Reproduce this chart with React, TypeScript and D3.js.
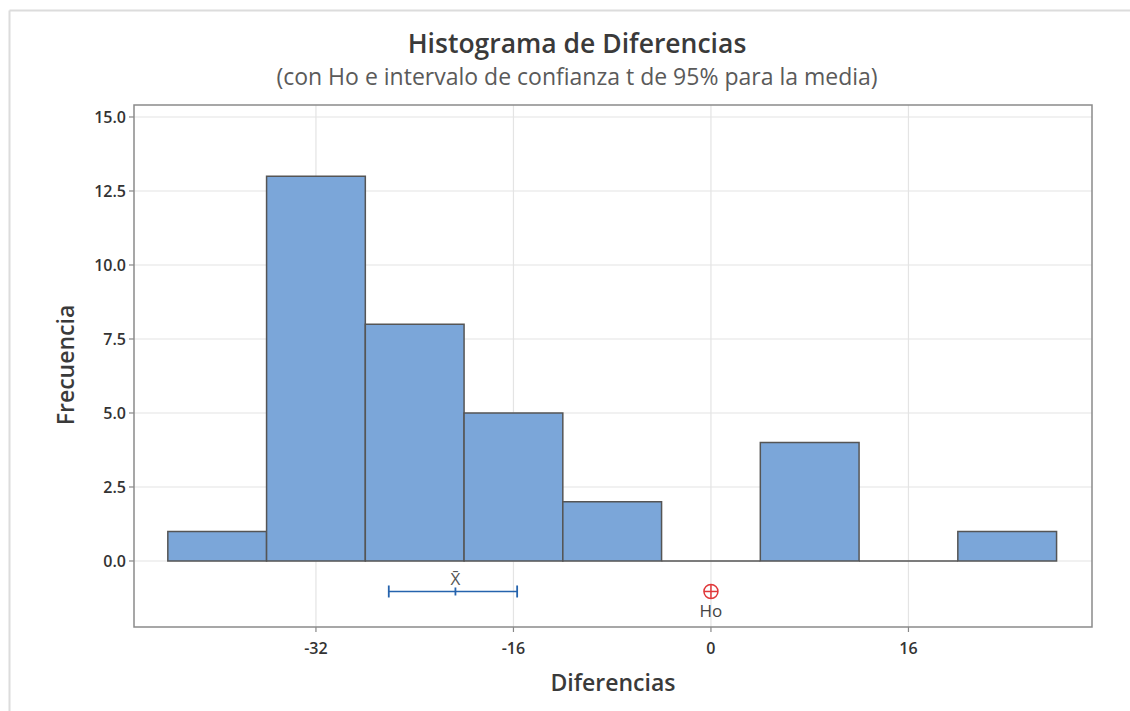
import React from "react";
import * as d3 from "d3";

const binEdges = [-44, -36, -28, -20, -12, -4, 4, 12, 20, 28];
const counts = [1, 13, 8, 5, 2, 0, 4, 0, 1];
const xTicks = [-32, -16, 0, 16];
const yTicks = [0, 2.5, 5, 7.5, 10, 12.5, 15];
const ciLow = -26.1;
const ciHigh = -15.7;
const meanVal = -20.7;
const h0 = 0;
const markerY = -1.03;

const W = 1130;
const H = 711;
const frame = { left: 134, right: 1092, top: 105, bottom: 627 };
const FONT = "'Open Sans', 'Noto Sans', 'DejaVu Sans', sans-serif";

export default function App() {
  const x = d3.scaleLinear().domain([-46.74, 30.87]).range([frame.left, frame.right]);
  const y = d3.scaleLinear().domain([-2.23, 15.405]).range([frame.bottom, frame.top]);
  const bins = counts.map((c, i) => ({ x0: binEdges[i], x1: binEdges[i + 1], c }));
  const my = y(markerY);
  const blue = "#2563ad";
  const red = "#e0383a";
  const barPath = (b: { x0: number; x1: number; c: number }) => {
    const p = d3.path();
    p.moveTo(x(b.x0), y(0));
    p.lineTo(x(b.x0), y(b.c));
    p.lineTo(x(b.x1), y(b.c));
    p.lineTo(x(b.x1), y(0));
    p.closePath();
    return p.toString();
  };
  return (
    <svg width={W} height={H} style={{ position: "absolute", left: 0, top: 0, background: "#fff" }}>
      <line x1={9.5} y1={10.5} x2={W} y2={10.5} stroke="#dcdcdc" strokeWidth={2} />
      <line x1={9.5} y1={10.5} x2={9.5} y2={H} stroke="#dcdcdc" strokeWidth={2} />
      <text x={577} y={53} textAnchor="middle" fontFamily={FONT} fontSize={26.5} fontWeight={600} fill="#3a3a3a">
        Histograma de Diferencias
      </text>
      <text x={577} y={85} textAnchor="middle" fontFamily={FONT} fontSize={23} fill="#5a5a5a">
        (con Ho e intervalo de confianza t de 95% para la media)
      </text>
      {yTicks.map((t) => (
        <g key={"y" + t}>
          <line x1={frame.left} x2={frame.right} y1={y(t)} y2={y(t)} stroke="#e4e4e4" strokeWidth={1.2} />
          <line x1={frame.left - 5} x2={frame.left} y1={y(t)} y2={y(t)} stroke="#888" strokeWidth={1.2} />
          <text x={frame.left - 8} y={y(t) + 6} textAnchor="end" fontFamily={FONT} fontSize={16} fontWeight={600} fill="#333">
            {d3.format(".1f")(t)}
          </text>
        </g>
      ))}
      {xTicks.map((t) => (
        <g key={"x" + t}>
          <line x1={x(t)} x2={x(t)} y1={frame.top} y2={frame.bottom} stroke="#e4e4e4" strokeWidth={1.2} />
          <line x1={x(t)} x2={x(t)} y1={frame.bottom} y2={frame.bottom + 5} stroke="#888" strokeWidth={1.2} />
          <text x={x(t)} y={frame.bottom + 27} textAnchor="middle" fontFamily={FONT} fontSize={16} fontWeight={600} fill="#333">
            {t}
          </text>
        </g>
      ))}
      {bins.map((b, i) => (
        <path key={"b" + i} d={barPath(b)} fill="#7ba6d9" stroke="#555" strokeWidth={1.5} />
      ))}
      <rect
        x={frame.left}
        y={frame.top}
        width={frame.right - frame.left}
        height={frame.bottom - frame.top}
        fill="none"
        stroke="#8a8a8a"
        strokeWidth={1.5}
      />
      {/* CI */}
      <line x1={x(ciLow)} x2={x(ciHigh)} y1={my} y2={my} stroke={blue} strokeWidth={1.6} />
      <line x1={x(ciLow)} x2={x(ciLow)} y1={my - 6} y2={my + 6} stroke={blue} strokeWidth={1.8} />
      <line x1={x(ciHigh)} x2={x(ciHigh)} y1={my - 6} y2={my + 6} stroke={blue} strokeWidth={1.8} />
      <line x1={x(meanVal)} x2={x(meanVal)} y1={my - 4} y2={my + 4} stroke={blue} strokeWidth={1.8} />
      <text x={x(meanVal)} y={my - 6} textAnchor="middle" fontFamily={FONT} fontSize={17} fill="#555">
        X̄
      </text>
      {/* Ho */}
      <circle cx={x(h0)} cy={my} r={7} fill="none" stroke={red} strokeWidth={1.5} />
      <line x1={x(h0) - 7} x2={x(h0) + 7} y1={my} y2={my} stroke={red} strokeWidth={1.5} />
      <line x1={x(h0)} x2={x(h0)} y1={my - 7} y2={my + 7} stroke={red} strokeWidth={1.5} />
      <text x={x(h0)} y={my + 26} textAnchor="middle" fontFamily={FONT} fontSize={17} fill="#444">
        Ho
      </text>
      <text x={613} y={691} textAnchor="middle" fontFamily={FONT} fontSize={23} fontWeight={600} fill="#3a3a3a">
        Diferencias
      </text>
      <text
        transform={`translate(74,365) rotate(-90)`}
        textAnchor="middle"
        fontFamily={FONT}
        fontSize={23}
        fontWeight={600}
        fill="#3a3a3a"
      >
        Frecuencia
      </text>
    </svg>
  );
}
